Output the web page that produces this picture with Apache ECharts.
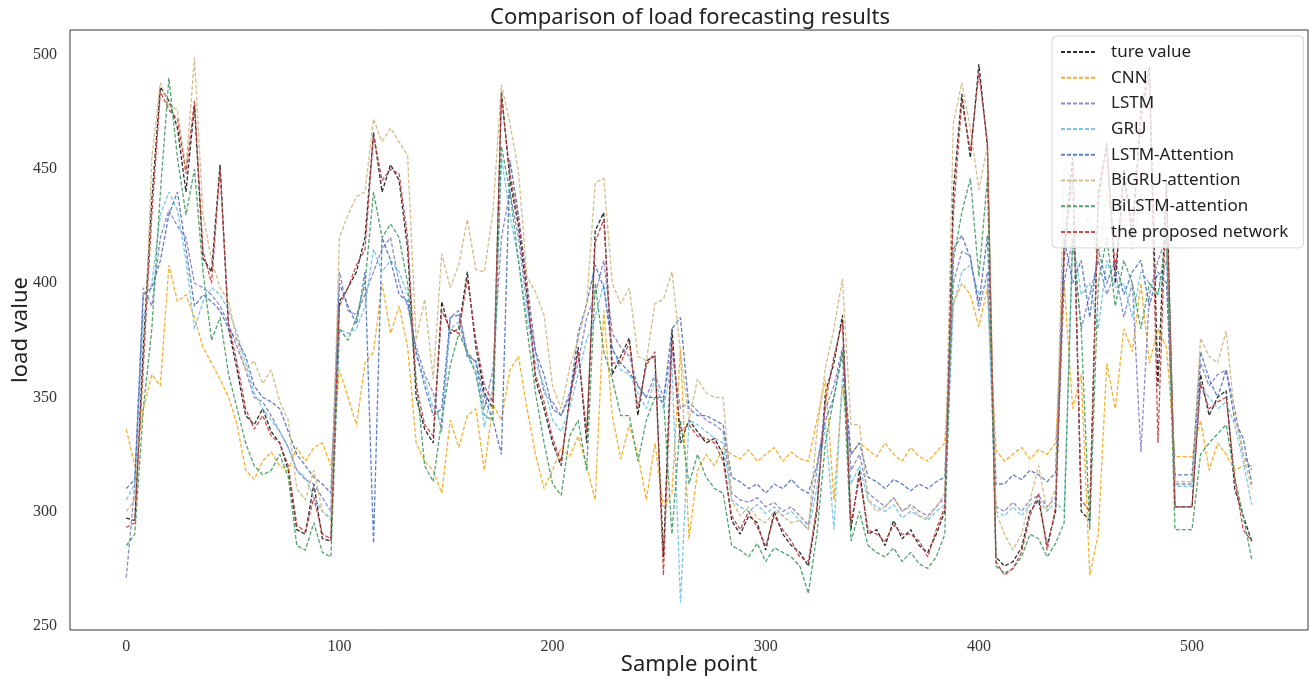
<!DOCTYPE html>
<html><head><meta charset="utf-8">
<script src="https://cdn.jsdelivr.net/npm/echarts@6/dist/echarts.min.js"></script>
<style>html,body{margin:0;padding:0;background:#fff}#c{width:1314px;height:680px}</style>
</head><body><div id="c"></div>
<script>
const samples = [0,4,8,12,16,20,24,28,32,36,40,44,48,
52,56,60,64,68,72,76,80,84,88,92,96,
100,104,108,112,116,120,124,128,132,
136,140,144,148,152,156,160,164,168,172,
176,180,184,188,192,196,200,204,208,212,
216,220,224,228,232,236,240,244,248,252,
256,260,264,268,272,276,280,284,288,292,
296,300,304,308,312,316,320,324,328,332,
336,340,344,348,352,356,360,364,368,372,
376,380,384,388,392,396,400,404,408,412,
416,420,424,428,432,436,440,444,448,452,
456,460,464,468,472,476,480,484,488,492,
496,500,504,508,512,516,520,524,528];

const trueValue = [297,296,372,437,486,480,468,440,478,411,405,452,380,
362,342,338,345,335,330,318,292,290,312,288,287,
392,398,405,420,466,440,452,445,415,
350,336,330,392,378,380,405,372,352,345,
484,445,425,395,358,345,330,320,350,372,
330,423,431,360,368,376,342,366,368,280,
380,330,340,335,330,332,325,296,290,298,
295,283,300,290,285,282,276,300,352,365,
386,292,318,290,292,285,296,288,292,285,
282,290,300,440,483,455,496,460,280,276,
278,284,300,305,285,300,415,455,300,296,
440,460,400,450,420,475,495,355,445,302,
302,302,360,342,350,353,310,298,287];

const cnn = [336,320,345,360,355,408,392,395,385,372,365,358,350,
338,318,314,322,326,320,318,328,322,328,330,320,
362,350,338,365,370,400,378,390,372,
330,322,318,308,340,328,342,345,318,347,
340,362,368,345,325,310,318,328,324,333,
320,305,388,342,323,338,325,305,330,302,
308,371,288,318,325,320,328,325,323,327,
322,325,328,322,326,323,322,340,358,305,
355,325,330,327,324,330,325,322,328,324,
322,326,330,391,400,395,381,398,327,322,
325,328,323,327,325,330,400,345,360,272,
290,365,345,380,370,400,365,380,372,324,
324,324,340,318,330,325,318,320,320];

const lstm = [271,312,398,390,420,432,425,420,400,398,395,390,382,
372,362,350,348,342,335,328,318,314,312,306,300,
405,388,386,395,405,415,420,400,390,
372,360,352,335,385,388,370,365,345,362,
420,440,420,390,370,352,348,342,352,365,
385,395,410,378,372,368,355,350,360,350,
370,345,348,344,340,338,335,308,305,304,
306,302,304,300,302,298,294,318,345,355,
372,318,325,308,305,302,306,300,303,300,
298,302,306,400,414,412,388,405,302,300,
304,300,305,307,302,306,400,420,380,395,
410,395,405,385,400,326,395,410,420,312,
312,312,365,355,360,362,345,325,318];

const gru = [305,312,385,400,430,440,432,410,380,392,398,395,388,
378,365,352,345,340,335,328,318,315,306,300,297,
380,378,380,390,415,405,410,405,395,
368,358,345,340,380,383,368,362,337,355,
455,430,410,385,365,355,340,335,345,360,
375,385,400,372,362,360,352,345,358,345,
365,260,340,338,335,332,330,305,302,300,
303,299,302,298,300,296,292,310,338,292,
360,312,320,305,302,300,303,297,300,298,
296,300,303,390,405,408,395,400,300,298,
302,298,303,305,300,304,300,420,395,400,
380,410,398,400,385,405,400,395,410,311,
311,311,355,350,345,348,338,322,303];

const lstmAttention = [310,314,395,398,410,430,440,415,390,395,392,388,380,
375,368,355,350,348,345,335,325,320,315,312,308,
400,390,382,405,286,420,410,395,392,
370,355,342,345,385,386,368,366,350,340,
325,454,430,400,370,360,345,342,350,378,
391,408,398,371,365,361,355,350,350,348,
380,385,345,342,342,340,338,315,313,310,
312,308,312,310,314,310,308,320,340,350,
370,325,330,315,313,310,314,312,309,312,
310,313,315,415,421,411,391,421,312,312,
316,314,318,316,313,317,420,400,410,385,
415,400,410,395,405,410,390,405,400,316,
316,316,370,358,350,362,340,332,312];

const bigruAttention = [300,305,360,455,488,478,476,450,499,430,410,398,392,
375,362,366,356,362,348,340,310,305,318,300,296,
420,430,438,440,472,462,468,462,456,
375,393,358,413,398,408,428,406,405,431,
487,470,449,403,396,386,355,345,363,375,
391,444,446,400,391,398,368,366,391,393,
405,370,340,358,352,350,350,305,298,302,
297,295,300,298,295,296,292,335,363,380,
402,338,338,305,300,302,306,300,302,298,
297,302,308,470,488,468,441,460,300,290,
283,290,305,320,300,310,450,445,420,430,
410,440,420,430,415,440,430,420,425,313,
313,313,376,368,365,379,342,325,310];

const bilstmAttention = [285,290,345,380,440,490,455,430,450,405,375,385,360,
345,330,320,316,318,325,315,285,283,295,282,280,
380,375,385,400,440,420,426,420,400,
358,320,313,340,364,378,370,360,342,340,
460,440,410,380,352,330,312,307,333,340,
318,400,370,358,342,342,322,340,350,350,
290,340,312,325,315,310,308,285,283,280,
286,278,284,282,280,276,264,290,330,350,
370,287,300,285,282,280,284,278,282,277,
275,280,290,410,431,446,403,446,276,273,
275,280,290,288,280,286,295,420,380,292,
400,420,390,410,400,380,400,395,420,292,
292,292,325,330,334,338,315,298,279];

const proposed = [293,295,365,430,484,476,472,448,480,414,400,450,382,
365,345,336,342,333,330,320,294,291,306,290,288,
390,398,408,415,465,445,450,448,420,
355,338,333,388,380,378,402,375,355,348,
482,448,428,398,360,348,332,322,348,370,
335,418,428,365,365,374,345,364,370,272,
375,335,338,333,332,330,322,298,292,300,
293,285,298,292,287,280,278,302,348,368,
383,295,315,292,290,287,294,290,290,287,
280,292,302,430,480,458,492,462,278,272,
275,282,298,308,283,302,410,450,305,300,
435,462,405,445,425,472,490,330,440,302,
302,302,356,345,348,350,315,292,287];

const seriesNames = ['ture value','CNN','LSTM','GRU','LSTM-Attention','BiGRU-attention','BiLSTM-attention','the proposed network'];
const seriesValues = [trueValue, cnn, lstm, gru, lstmAttention, bigruAttention, bilstmAttention, proposed];
const seriesColors = ['#151515','#f5a814','#7e7ec4','#6cc2e4','#4a70bd','#cfb57c','#3d9a5c','#c23b3b'];
const xTicks = [0,100,200,300,400,500];
const yTicks = [250,300,350,400,450,500];

const chart = echarts.init(document.getElementById('c'), null, {renderer:'canvas'});
const series = seriesNames.map((name, k) => ({
  type:'line', name: name,
  data: samples.map((s, i) => [s, seriesValues[k][i]]),
  symbol:'none', showSymbol:false, silent:true,
  lineStyle:{color: seriesColors[k], width:1.3, type:[4,2], opacity:0.9},
  itemStyle:{color: seriesColors[k], opacity:0},
  emphasis:{disabled:true},
  z: 2 + k*0.01
}));

chart.setOption({
  animation:false,
  backgroundColor:'#ffffff',
  title:{
    text:'Comparison of load forecasting results',
    left:690, top:7, textAlign:'center', padding:0,
    textStyle:{fontFamily:'Noto Sans', fontSize:22, fontWeight:'normal', color:'#222'}
  },
  legend:{
    orient:'vertical', left:1052, top:36,
    itemWidth:35, itemHeight:12, itemGap:5.7,
    padding:[6,15,6,8],
    backgroundColor:'rgba(255,255,255,0.8)', borderColor:'#d6d6d6', borderWidth:1, borderRadius:4,
    itemStyle:{opacity:0},
    textStyle:{fontFamily:'Noto Sans', fontSize:17, color:'#222', lineHeight:20, padding:[0,0,0,10]},
    data: seriesNames
  },
  grid:{left:70, right:6, top:30, bottom:50, show:true, borderColor:'#333', borderWidth:1,
        backgroundColor:'transparent', containLabel:false, outerBoundsMode:'none'},
  xAxis:{
    type:'value', min:-26.4, max:554.4,
    axisLine:{show:false}, axisTick:{show:false}, splitLine:{show:false},
    axisLabel:{customValues:xTicks, fontFamily:'Liberation Serif', fontSize:16, color:'#333', margin:9},
    name:'Sample point', nameLocation:'middle', nameGap:24, nameMoveOverlap:false,
    nameTextStyle:{fontFamily:'Noto Sans', fontSize:22, color:'#222'}
  },
  yAxis:{
    type:'value', min:248, max:511,
    axisLine:{show:false}, axisTick:{show:false}, splitLine:{show:false},
    axisLabel:{customValues:yTicks, fontFamily:'Liberation Serif', fontSize:16, color:'#333', margin:13},
    name:'load value', nameLocation:'middle', nameGap:38, nameMoveOverlap:false,
    nameTextStyle:{fontFamily:'Noto Sans', fontSize:22, color:'#222'}
  },
  series: series
});
</script>
</body></html>
